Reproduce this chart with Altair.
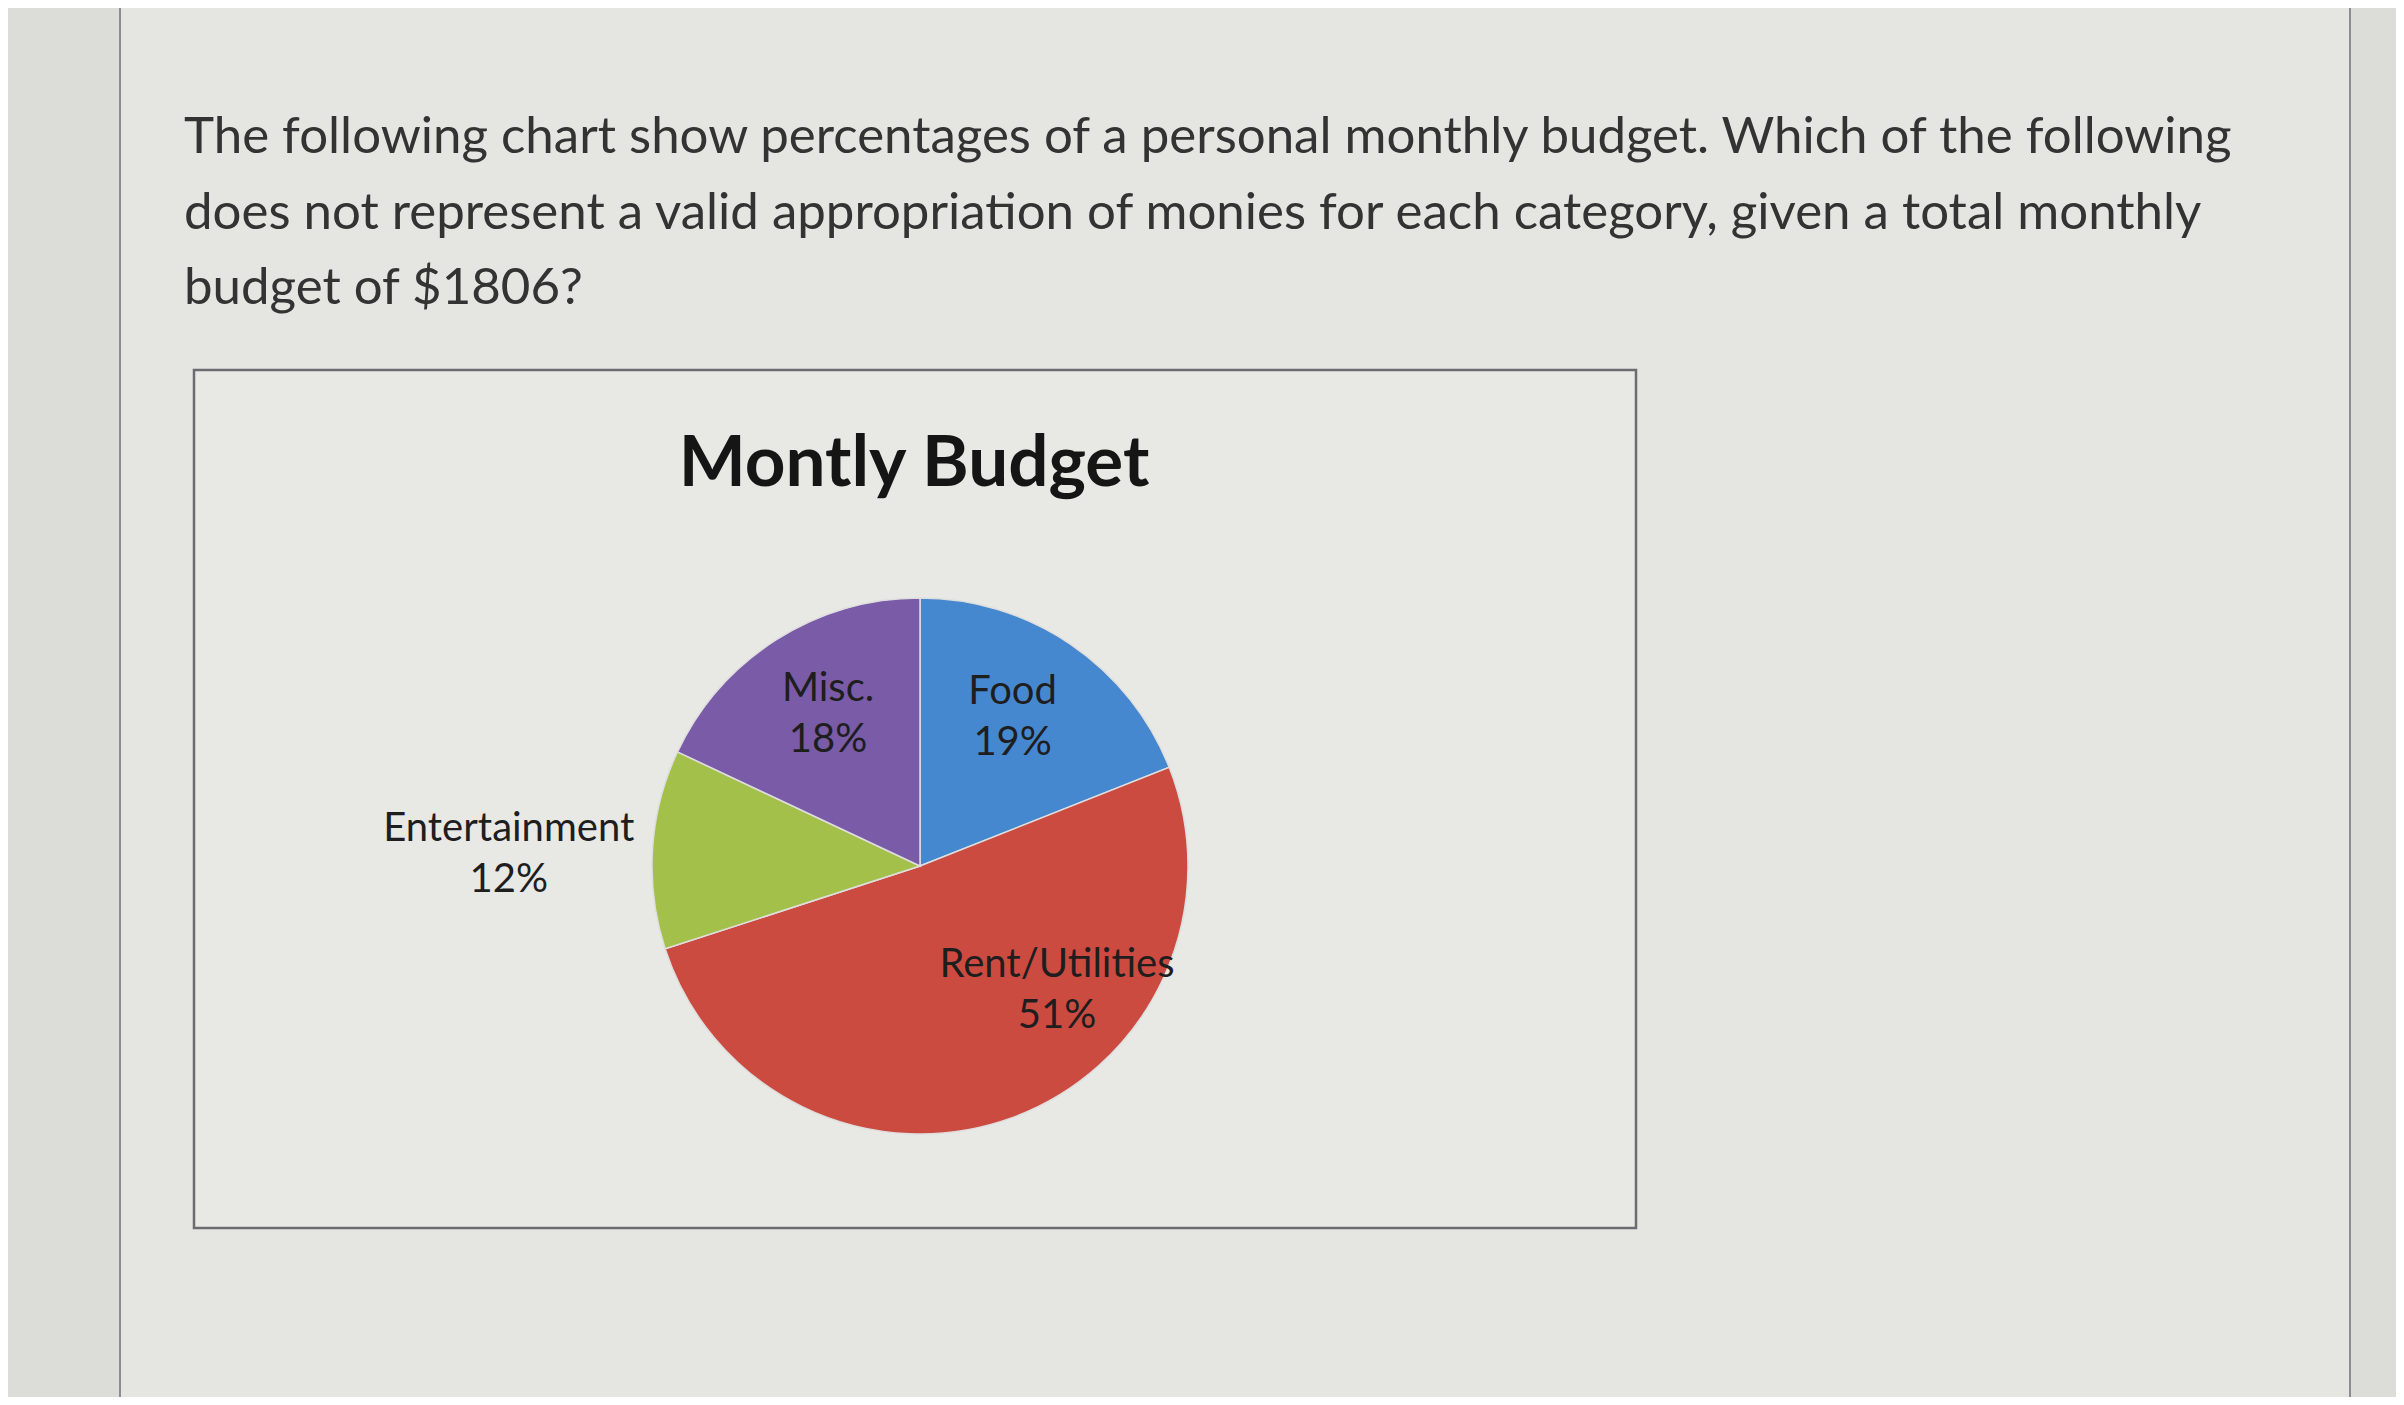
import pandas as pd
import altair as alt

# slices, clockwise from 12 o'clock
categories = ["Food", "Rent/Utilities", "Entertainment", "Misc."]
percents = [19, 51, 12, 18]
slice_colors = ["#4688cf", "#cc4b41", "#a3c04a", "#7a5ba8"]

question_lines = [
    "The following chart show percentages of a personal monthly budget. Which of the following",
    "does not represent a valid appropriation of monies for each category, given a total monthly",
    "budget of $1806?",
]
chart_title = "Montly Budget"

PAGE_BG = "#dcdcd9"
CARD_BG = "#e5e5e2"
BOX_BG = "#e8e8e5"
TEXT = "#333333"
LABEL = "#1e1e1e"
FONT = "Lato"

W, H = 2388, 1389
CX, CY, R = 912, 858, 268   # pie centre / radius in plot pixels

df = pd.DataFrame({
    "idx": range(len(categories)),
    "category": categories,
    "pct": percents,
})
one = pd.DataFrame({"k": [0]})

# page card and the chart's framed box
card = alt.Chart(one).mark_rect(fill=CARD_BG, stroke="#8c8c92", strokeWidth=2).encode(
    x=alt.value(112), x2=alt.value(2342), y=alt.value(-3), y2=alt.value(1420)
)
box = alt.Chart(one).mark_rect(fill=BOX_BG, stroke="#6c6c70", strokeWidth=2.5).encode(
    x=alt.value(186), x2=alt.value(1628), y=alt.value(362), y2=alt.value(1220)
)

question = alt.Chart(one).mark_text(
    align="left", baseline="alphabetic", font=FONT, fontSize=51,
    color=TEXT, lineBreak="\n", lineHeight=75.5
).encode(
    x=alt.value(176), y=alt.value(145), text=alt.value("\n".join(question_lines))
)

title = alt.Chart(one).mark_text(
    align="center", baseline="alphabetic", font=FONT, fontSize=71,
    fontWeight="bold", color="#151515"
).encode(x=alt.value(906), y=alt.value(478), text=alt.value(chart_title))

pie = alt.Chart(df).mark_arc(outerRadius=R, stroke="#dedede", strokeWidth=1.5).encode(
    theta=alt.Theta("pct:Q", stack=True),
    order=alt.Order("idx:Q"),
    color=alt.Color("category:N", scale=alt.Scale(domain=categories, range=slice_colors),
                    legend=None),
    x=alt.value(CX), y=alt.value(CY),
)

# label angle = middle of each slice
lab = (
    alt.Chart(df)
    .transform_window(cum="sum(pct)", sort=[alt.SortField("idx")])
    .transform_calculate(
        mid="datum.cum - datum.pct / 2",
        label="datum.category + '\\n' + datum.pct + '%'",
    )
)
theta_mid = alt.Theta("mid:Q", scale=alt.Scale(domain=[0, 100]))
txt = dict(font=FONT, fontSize=40, color=LABEL, lineBreak="\n", lineHeight=51,
           align="center", baseline="middle")

food_label = lab.transform_filter("datum.category == 'Food'").mark_text(
    radius=179, dx=-8, dy=-26, **txt
).encode(theta=theta_mid, text="label:N", x=alt.value(CX), y=alt.value(CY))
misc_label = lab.transform_filter("datum.category == 'Misc.'").mark_text(
    radius=179, dx=4, dy=-26, **txt
).encode(theta=theta_mid, text="label:N", x=alt.value(CX), y=alt.value(CY))
rent_label = lab.transform_filter("datum.category == 'Rent/Utilities'").mark_text(
    radius=180, dx=76, dy=-70, **txt
).encode(theta=theta_mid, text="label:N", x=alt.value(CX), y=alt.value(CY))
ent_label = lab.transform_filter("datum.category == 'Entertainment'").mark_text(
    radius=410, dx=-2, dy=-11, **txt
).encode(theta=theta_mid, text="label:N", x=alt.value(CX), y=alt.value(CY))

chart = (
    alt.layer(card, box, question, title, pie, food_label, misc_label, rent_label, ent_label)
    .properties(width=W, height=H, padding=0, background=PAGE_BG,
                autosize=alt.AutoSizeParams(type="none"))
    .configure_view(strokeWidth=0)
)

chart.save("out.html", embed_options={"renderer": "svg", "actions": False})
